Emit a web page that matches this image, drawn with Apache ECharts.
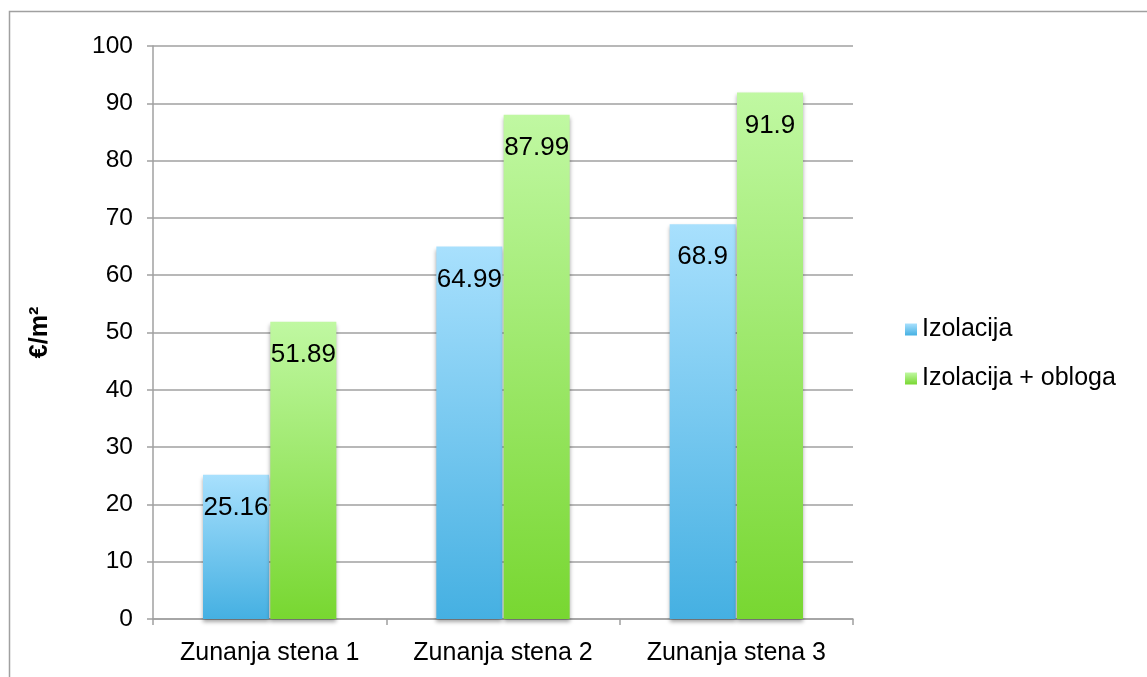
<!DOCTYPE html>
<html>
<head>
<meta charset="utf-8">
<script src="https://cdn.jsdelivr.net/npm/echarts@6/dist/echarts.min.js"></script>
<style>
  html, body { margin: 0; padding: 0; background: #fff; }
  #chart { width: 1147px; height: 677px; }
</style>
</head>
<body>
<div id="chart"></div>
<script>
// data
var categories = ['Zunanja stena 1', 'Zunanja stena 2', 'Zunanja stena 3'];
var izolacija = [25.16, 64.99, 68.9];
var izolacijaObloga = [51.89, 87.99, 91.9];
var yTicks = [0, 10, 20, 30, 40, 50, 60, 70, 80, 90, 100];

var font = 'Liberation Sans, Arial, Helvetica, sans-serif';

function grad(top, bottom) {
    return new echarts.graphic.LinearGradient(0, 0, 0, 1, [
        { offset: 0, color: top },
        { offset: 1, color: bottom }
    ]);
}

var chart = echarts.init(document.getElementById('chart'), null, { renderer: 'canvas' });

var labelStyle = {
    show: true,
    position: 'insideTop',
    distance: 20,
    color: '#000',
    fontFamily: font,
    fontSize: 26
};

var option = {
    animation: false,
    backgroundColor: '#fff',
    graphic: [{
        type: 'rect',
        shape: { x: 9.5, y: 11.5, width: 1160, height: 700 },
        style: { fill: 'none', stroke: '#a0a0a0', lineWidth: 1.5 },
        silent: true
    }],
    grid: { left: 153, top: 46, width: 700, height: 573, containLabel: false },
    legend: {
        orient: 'vertical',
        left: 900,
        top: 312,
        itemWidth: 12,
        itemHeight: 12,
        itemGap: 24,
        icon: 'rect',
        textStyle: { fontFamily: font, fontSize: 25, color: '#000' },
        data: ['Izolacija', 'Izolacija + obloga']
    },
    xAxis: {
        type: 'category',
        data: categories,
        axisLine: { lineStyle: { color: '#a0a0a0', width: 1.5 } },
        axisTick: { show: true, length: 6, lineStyle: { color: '#a0a0a0', width: 1.5 } },
        axisLabel: { color: '#000', fontFamily: font, fontSize: 25, margin: 22 }
    },
    yAxis: {
        type: 'value',
        min: yTicks[0],
        max: yTicks[yTicks.length - 1],
        interval: 10,
        name: '€/m²',
        nameLocation: 'middle',
        nameGap: 100,
        nameRotate: 90,
        nameTextStyle: { color: '#000', fontFamily: font, fontSize: 25, fontWeight: 'bold' },
        axisLine: { show: true, lineStyle: { color: '#a0a0a0', width: 1.5 } },
        axisTick: { show: true, length: 6, lineStyle: { color: '#a0a0a0', width: 1.5 } },
        axisLabel: { color: '#000', fontFamily: font, fontSize: 24.5, margin: 20 },
        splitLine: { lineStyle: { color: '#a0a0a0', width: 1.5 } }
    },
    series: [
        {
            name: 'Izolacija',
            type: 'bar',
            data: izolacija,
            barWidth: 66,
            barGap: '2%',
            itemStyle: {
                color: grad('#a8e0fd', '#45b0e2'),
                shadowColor: 'rgba(0,0,0,0.35)',
                shadowBlur: 4,
                shadowOffsetY: 3
            },
            label: labelStyle
        },
        {
            name: 'Izolacija + obloga',
            type: 'bar',
            data: izolacijaObloga,
            barWidth: 66,
            itemStyle: {
                color: grad('#c0f8a2', '#78d731'),
                shadowColor: 'rgba(0,0,0,0.35)',
                shadowBlur: 4,
                shadowOffsetY: 3
            },
            label: labelStyle
        }
    ]
};

chart.setOption(option);
</script>
</body>
</html>
